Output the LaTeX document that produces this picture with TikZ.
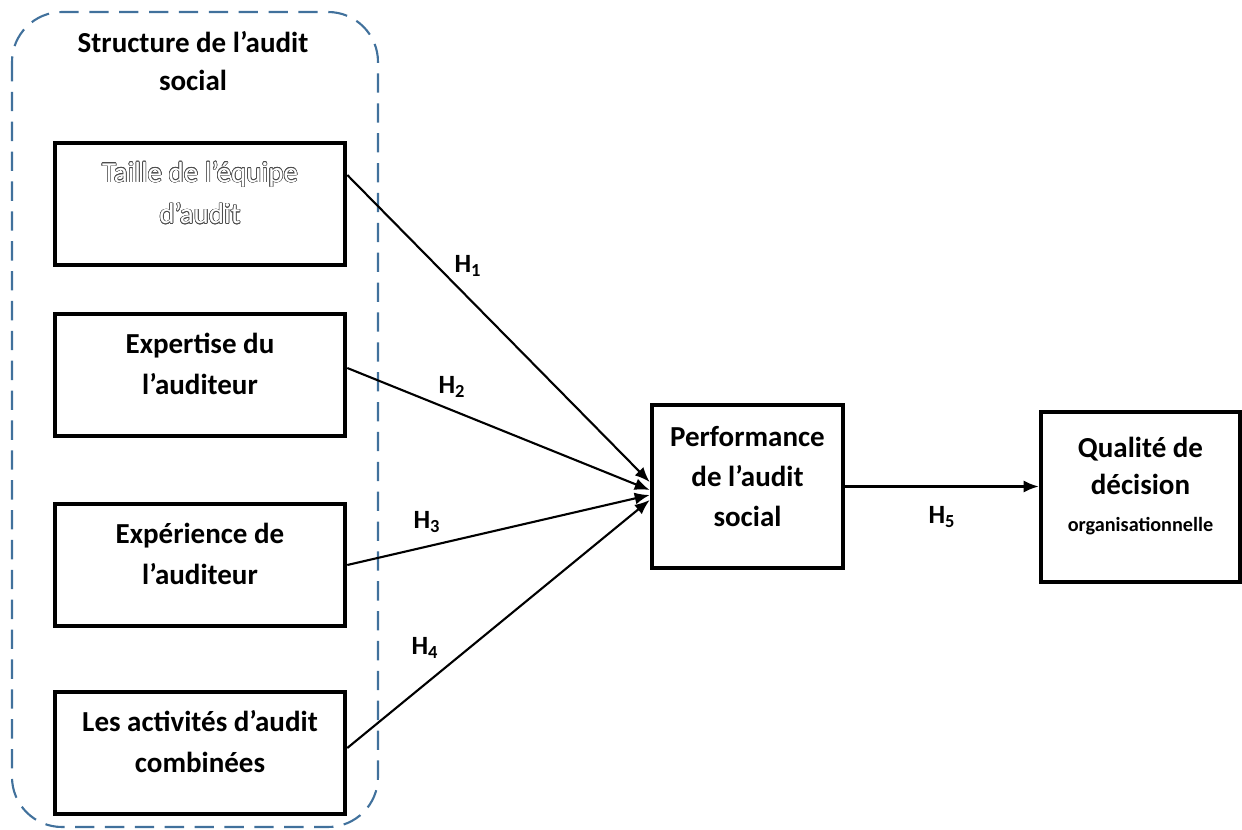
\documentclass[tikz,border=0pt]{standalone}
\usepackage{fontspec}
\setmainfont{Carlito}
\usepackage[copies]{contour}
\contourlength{0.35pt}
\contournumber{16}
\usetikzlibrary{arrows.meta}
\definecolor{dashblue}{RGB}{65,113,156}
\tikzset{
  varbox/.style={draw, line width=2.6pt, minimum width=5.8cm, minimum height=2.44cm,
    align=center, text depth=0.45cm, font=\fontsize{16.5}{23.5}\selectfont\bfseries},
  hyplabel/.style={font=\fontsize{15}{17}\selectfont\bfseries},
  hyparrow/.style={line width=1.2pt, -{Latex[length=3mm,width=2.4mm]}}
}
\begin{document}
\begin{tikzpicture}
\useasboundingbox (0,0) rectangle (24.84,-16.6);

% Group frame on the left
\draw[dashblue, line width=1.2pt, dash pattern=on 11pt off 6pt, rounded corners=1cm]
  (0.24,-0.24) rectangle (7.56,-16.54);
\node[align=center, font=\fontsize{16.5}{21.5}\selectfont\bfseries] (grouptitle) at (3.86,-1.22)
  {Structure de l’audit\\social};

% Independent variables
\node[varbox, font=\fontsize{16.5}{23.5}\selectfont, text=white] (taille) at (4.0,-4.08)
  {\contour{black!70}{Taille de l’équipe}\\\contour{black!70}{d’audit}};
\node[varbox] (expertise) at (4.0,-7.5) {Expertise du\\l’auditeur};
\node[varbox] (experience) at (4.0,-11.3) {Expérience de\\l’auditeur};
\node[varbox] (activites) at (4.0,-15.06) {Les activités d’audit\\combinées};

% Mediator and outcome
\node[draw, line width=2.6pt, minimum width=3.82cm, minimum height=3.26cm, align=center,
  text depth=0.4cm, font=\fontsize{16.5}{22.6}\selectfont\bfseries] (perf) at (14.95,-9.73)
  {Performance\\de l’audit\\social};
\node[draw, line width=2.6pt, minimum width=3.98cm, minimum height=3.4cm, align=center,
  text depth=0.5cm, font=\fontsize{16.5}{21}\selectfont\bfseries] (qualite) at (22.81,-9.94)
  {Qualité de\\décision\\{\fontsize{11.5}{19}\selectfont organisationnelle}};

% Hypotheses
\draw[hyparrow] ([yshift=0.58cm]taille.east) -- ([yshift=0.09cm]perf.west);
\draw[hyparrow] ([yshift=0.14cm]expertise.east) -- ([yshift=-0.07cm]perf.west);
\draw[hyparrow] (experience.east) -- ([yshift=-0.17cm]perf.west);
\draw[hyparrow] ([yshift=0.1cm]activites.east) -- ([yshift=-0.27cm]perf.west);
\draw[hyparrow] (perf.east) -- (perf.east -| qualite.west);

\node[hyplabel] (h1) at (9.36,-5.32) {H\textsubscript{1}};
\node[hyplabel] (h2) at (9.04,-7.74) {H\textsubscript{2}};
\node[hyplabel] (h3) at (8.54,-10.44) {H\textsubscript{3}};
\node[hyplabel] (h4) at (8.5,-12.96) {H\textsubscript{4}};
\node[hyplabel] (h5) at (18.84,-10.34) {H\textsubscript{5}};
\end{tikzpicture}
\end{document}
